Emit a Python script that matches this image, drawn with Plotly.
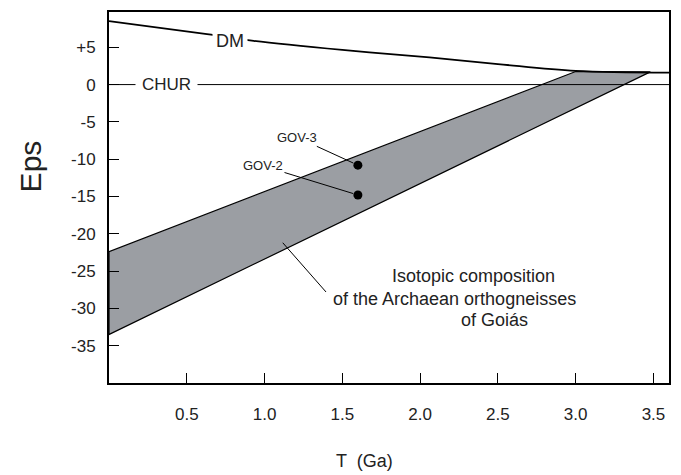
import plotly.graph_objects as go

# ---- data ----
dm_t = [0, 0.63, 0.93, 1.5, 2.06, 2.5, 3.0, 3.6]
dm_eps = [8.5, 6.76, 5.87, 4.65, 3.64, 2.75, 1.83, 1.6]

chur_t = [0, 3.6]
chur_eps = [0, 0]

band_t = [0, 3.0, 3.48, 0, 0]
band_eps = [-22.4, 1.75, 1.7, -33.5, -22.4]

sample_names = ["GOV-3", "GOV-2"]
sample_t = [1.6, 1.6]
sample_eps = [-10.8, -14.8]

x_tickvals = [0.5, 1.0, 1.5, 2.0, 2.5, 3.0, 3.5]
x_ticktext = ["0.5", "1.0", "1.5", "2.0", "2.5", "3.0", "3.5"]
y_tickvals = [5, 0, -5, -10, -15, -20, -25, -30, -35]
y_ticktext = ["+5", "0", "-5", "-10", "-15", "-20", "-25", "-30", "-35"]

FONT = "Liberation Sans, Arial, sans-serif"
TXT = "#222222"

fig = go.Figure()

fig.add_trace(go.Scatter(x=band_t, y=band_eps, mode="lines", fill="toself",
                         fillcolor="#9b9ea3", line=dict(color="black", width=1.2),
                         hoverinfo="skip", showlegend=False))
fig.add_trace(go.Scatter(x=chur_t, y=chur_eps, mode="lines",
                         line=dict(color="black", width=1), showlegend=False))
fig.add_trace(go.Scatter(x=dm_t, y=dm_eps, mode="lines", line_shape="spline",
                         line=dict(color="black", width=1.8), showlegend=False))
fig.add_trace(go.Scatter(x=sample_t, y=sample_eps, mode="markers",
                         marker=dict(color="black", size=9), showlegend=False))

annotations = [
    dict(x=0.78, y=5.9, text="DM", showarrow=False, bgcolor="white", borderpad=3,
         font=dict(size=18, color=TXT, family=FONT)),
    dict(x=0.37, y=0, text="CHUR", showarrow=False, bgcolor="white", borderpad=6,
         font=dict(size=17, color=TXT, family=FONT)),
    dict(x=2.34, y=-25.7, text="Isotopic composition", showarrow=False,
         font=dict(size=18, color=TXT, family=FONT)),
    dict(x=2.224, y=-28.7, text="of the Archaean orthogneisses", showarrow=False,
         font=dict(size=18, color=TXT, family=FONT)),
    dict(x=2.48, y=-31.6, text="of Goiás", showarrow=False,
         font=dict(size=18, color=TXT, family=FONT)),
    dict(xref="paper", yref="paper", x=-0.141, y=0.584, text="Eps", textangle=-90,
         xanchor="center", yanchor="middle",
         showarrow=False, font=dict(size=30, color=TXT, family=FONT)),
    dict(xref="paper", yref="paper", x=0.457, y=-0.209, text="T  (Ga)",
         xanchor="center", yanchor="middle",
         showarrow=False, font=dict(size=18, color=TXT, family=FONT)),
]
label_pos = [(1.21, -7.07), (0.99, -10.9)]
for name, t, e, (lx, ly) in zip(sample_names, sample_t, sample_eps, label_pos):
    annotations.append(dict(x=t, y=e, ax=lx, ay=ly, axref="x", ayref="y",
                            text=name, showarrow=True, arrowhead=0, arrowwidth=1,
                            arrowcolor="black", standoff=5,
                            font=dict(size=13, color=TXT, family=FONT)))

# page has an 8px body margin: figure is sized/placed to compensate
fig.update_layout(
    width=673, height=467,
    margin=dict(l=101, r=12, t=2, b=92),
    paper_bgcolor="white", plot_bgcolor="white",
    annotations=annotations,
    shapes=[dict(type="line", xref="x", yref="y", x0=1.117, y0=-21.2, x1=1.395, y1=-27.8,
                 line=dict(color="black", width=1))],
    font=dict(family=FONT, color=TXT),
)
fig.update_xaxes(range=[0, 3.6], showgrid=False, zeroline=False,
                 showline=True, linecolor="black", linewidth=2, mirror=True,
                 ticks="inside", ticklen=10, tickwidth=1, tickcolor="black",
                 tickvals=x_tickvals, ticktext=x_ticktext, ticklabelstandoff=15,
                 tickfont=dict(size=17, color=TXT, family=FONT))
fig.update_yaxes(range=[-40, 9.73], showgrid=False, zeroline=False,
                 showline=True, linecolor="black", linewidth=2, mirror=True,
                 ticks="inside", ticklen=10, tickwidth=1, tickcolor="black",
                 tickvals=y_tickvals, ticktext=y_ticktext, ticklabelstandoff=8,
                 tickfont=dict(size=17, color=TXT, family=FONT))

fig.write_html("out.html")
